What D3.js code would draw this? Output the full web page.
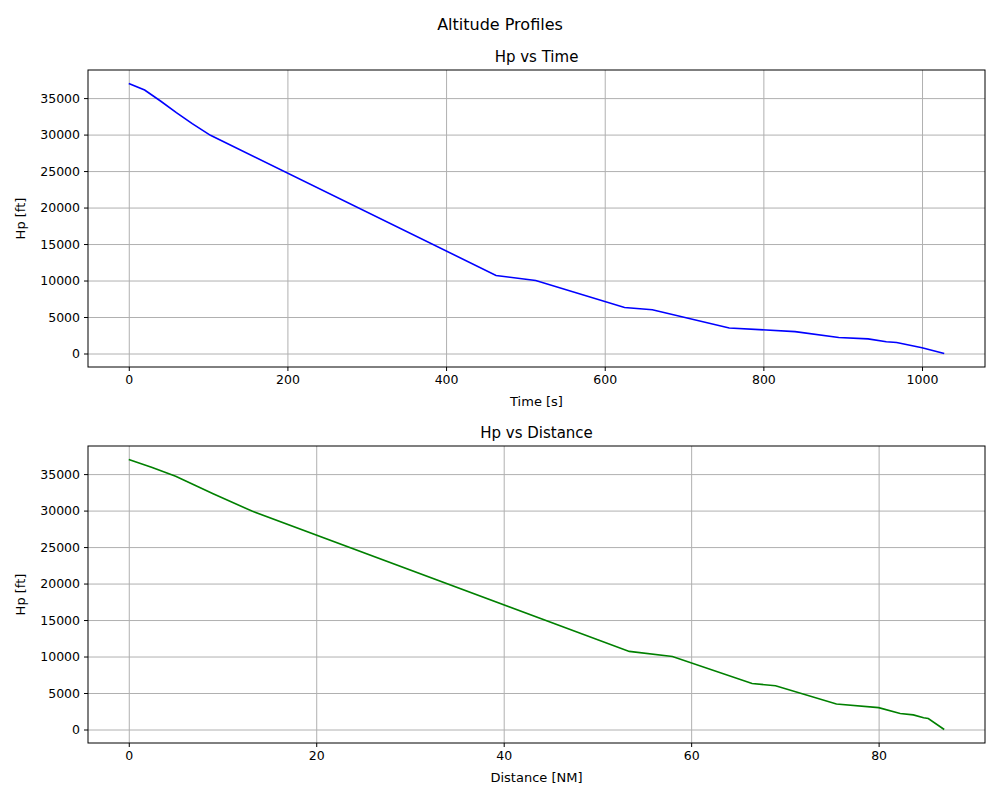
<!DOCTYPE html><html><head><meta charset="utf-8"><script src="https://cdn.jsdelivr.net/npm/d3@7"></script>
<style>body{margin:0;background:#fff}text{font-family:"DejaVu Sans",sans-serif}</style></head><body>
<svg id="c" width="1000" height="800"></svg>
<script>
const timeS=[0,20,40,60,80,103,463,513,625,660,757,840,895,932,955,968,1000,1028];
const hpTime=[37000,36100,34600,33000,31500,29900,10700,10000,6300,6000,3500,3000,2200,2000,1600,1500,800,0];
const distNM=[0,2.5,5,7,9,13.2,53.4,58,66.5,69,75.5,80,82.3,83.7,84.8,85.3,87];
const hpDist=[37000,35900,34700,33500,32300,29900,10700,10000,6300,6000,3500,3000,2200,2000,1600,1500,0];
const svg=d3.select("#c");
svg.append("text").attr("x",500).attr("y",30).attr("text-anchor","middle").attr("font-size",16).text("Altitude Profiles");
function panel(top,xs,ys,color,title,xlabel,xticks){
  const L=88,R=985,T=top,B=top+297;
  const xmin=d3.min(xs),xmax=d3.max(xs),xm=(xmax-xmin)*0.05;
  const x=d3.scaleLinear().domain([xmin-xm,xmax+xm]).range([L,R]);
  const y=d3.scaleLinear().domain([-1850,38850]).range([B,T]);
  const g=svg.append("g");
  g.append("g").attr("transform",`translate(0,${B})`).call(d3.axisBottom(x).tickValues(xticks).tickSize(-(B-T)).tickFormat(""))
   .call(a=>{a.selectAll("line").attr("stroke","#b0b0b0");a.select(".domain").remove();});
  g.append("g").attr("transform",`translate(${L},0)`).call(d3.axisLeft(y).tickValues(d3.range(0,35001,5000)).tickSize(-(R-L)).tickFormat(""))
   .call(a=>{a.selectAll("line").attr("stroke","#b0b0b0");a.select(".domain").remove();});
  g.append("path").datum(xs.map((v,i)=>[v,ys[i]])).attr("fill","none").attr("stroke",color).attr("stroke-width",1.6)
   .attr("d",d3.line().x(d=>x(d[0])).y(d=>y(d[1])));
  g.append("rect").attr("x",L).attr("y",T).attr("width",R-L).attr("height",B-T).attr("fill","none").attr("stroke","#000");
  const xa=g.append("g").attr("transform",`translate(0,${B})`).call(d3.axisBottom(x).tickValues(xticks).tickSize(4).tickPadding(4).tickFormat(d3.format("d")));
  xa.select(".domain").remove();xa.selectAll("text").attr("font-size",12.5);
  const ya=g.append("g").attr("transform",`translate(${L},0)`).call(d3.axisLeft(y).tickValues(d3.range(0,35001,5000)).tickSize(4).tickPadding(4).tickFormat(d3.format("d")));
  ya.select(".domain").remove();ya.selectAll("text").attr("font-size",12.5);
  g.append("text").attr("x",(L+R)/2).attr("y",T-8).attr("text-anchor","middle").attr("font-size",15).text(title);
  g.append("text").attr("x",(L+R)/2).attr("y",B+39).attr("text-anchor","middle").attr("font-size",13).text(xlabel);
  g.append("text").attr("transform",`translate(25,${(T+B)/2}) rotate(-90)`).attr("text-anchor","middle").attr("font-size",13).text("Hp [ft]");
}
panel(70,timeS,hpTime,"blue","Hp vs Time","Time [s]",[0,200,400,600,800,1000]);
panel(446,distNM,hpDist,"green","Hp vs Distance","Distance [NM]",[0,20,40,60,80]);
</script></body></html>
